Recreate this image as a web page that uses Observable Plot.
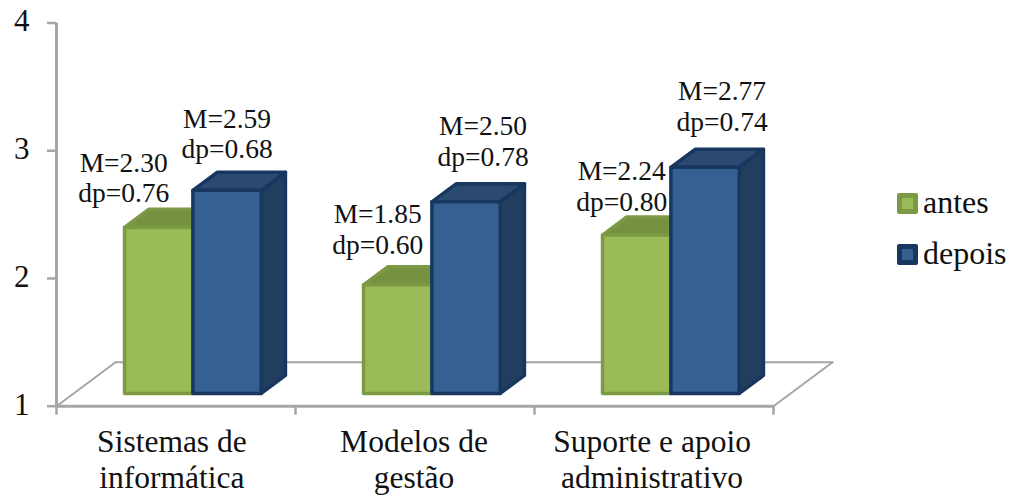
<!DOCTYPE html>
<html>
<head>
<meta charset="utf-8">
<script src="https://cdn.jsdelivr.net/npm/d3@7"></script>
<script src="https://cdn.jsdelivr.net/npm/@observablehq/plot@0.6"></script>
<style>
  html, body { margin: 0; padding: 0; background: #fff; }
  #chart { position: relative; width: 1013px; height: 495px; font-family: "Liberation Serif", serif; color: #111; overflow: hidden; }
  #chart svg { display: block; }
  .key { position: absolute; left: 897px; display: flex; align-items: center; font-size: 32px; line-height: 30px; }
  .key span { position: relative; top: -1px; }
  .key i { display: block; box-sizing: border-box; width: 21px; height: 21px; margin-right: 5px; border-radius: 2px; border-style: solid; border-width: 5px; }
</style>
</head>
<body>
<div id="chart"></div>
<script>
const categories = ["Sistemas de\ninformática", "Modelos de\ngestão", "Suporte e apoio\nadministrativo"];
const seriesNames = ["antes", "depois"];
const antesM = [2.30, 1.85, 2.24];
const antesDp = [0.76, 0.60, 0.80];
const depoisM = [2.59, 2.50, 2.77];
const depoisDp = [0.68, 0.78, 0.74];

// Oblique projection: a unit of depth moves a point this far in x and y data units.
const skewX = 0.247, skewY = 0.3446;
const project = (x, y, d) => ({x: x + skewX * d, y: y + skewY * d});

const barWidth = 0.286;
const barStart = 0.213;
const depthFront = 0.29, depthBack = 0.70;

const series = [
  {m: antesM, dp: antesDp, offset: 0, fill: "#9BBB59", stroke: "#7C9A45", top: "#76913F", side: "#76913F", sw: 3.5},
  {m: depoisM, dp: depoisDp, offset: barWidth, fill: "#366092", stroke: "#17375E", top: "#2A4A72", side: "#213E5F", sw: 3.5}
];

// Builds the three visible faces of one cuboid as closed outlines.
function faces(s) {
  const front = [], top = [], side = [];
  s.m.forEach((v, i) => {
    const x0 = i + barStart + s.offset, x1 = x0 + barWidth;
    const push = (arr, pts) => pts.forEach(p => arr.push({...p, bar: i}));
    push(front, [project(x0, 1, depthFront), project(x1, 1, depthFront), project(x1, v, depthFront), project(x0, v, depthFront)]);
    push(top, [project(x0, v, depthFront), project(x1, v, depthFront), project(x1, v, depthBack), project(x0, v, depthBack)]);
    push(side, [project(x1, 1, depthFront), project(x1, 1, depthBack), project(x1, v, depthBack), project(x1, v, depthFront)]);
  });
  return {front, top, side};
}

const faceMark = (rows, fill, s) => Plot.line(rows, {
  x: "x", y: "y", z: "bar", curve: "linear-closed",
  fill, stroke: s.stroke, strokeWidth: s.sw, strokeLinejoin: "round"
});

const barMarks = series.flatMap(s => {
  const f = faces(s);
  return [faceMark(f.top, s.top, s), faceMark(f.side, s.side, s), faceMark(f.front, s.fill, s)];
});

// Statistic labels sit beside each bar top; the nudges keep them clear of the neighbouring bar.
const labelNudge = [
  [{dx: -35, dy: -50}, {dx: 0, dy: -57}],
  [{dx: -20, dy: -56}, {dx: 17, dy: -61}],
  [{dx: -15, dy: -49.5}, {dx: 17, dy: -61.5}]
];
const labelMarks = series.flatMap((s, k) => s.m.map((v, i) => {
  const n = labelNudge[i][k];
  const at = project(i + barStart + s.offset + barWidth / 2, v, depthFront);
  return Plot.text([`M=${v.toFixed(2)}\ndp=${s.dp[i].toFixed(2)}`], {
    x: () => at.x, y: () => at.y, text: d => d,
    dx: n.dx, dy: n.dy, fontSize: 27.5, lineHeight: 1.11, fill: "#111", lineAnchor: "middle"
  });
}));

const floorBack = [project(0, 1, 1), project(3, 1, 1)];
const floorLeft = [project(0, 1, 0), project(0, 1, 1)];
const floorRight = [project(3, 1, 0), project(3, 1, 1)];
const gray = "#A6A6A6";

// Category labels are centred under each group, with a small shift for the first and last.
const categoryShift = [-0.017, -0.004, -0.008];

const chart = Plot.plot({
  width: 1013, height: 495,
  marginLeft: 56, marginRight: 240, marginTop: 22.5, marginBottom: 89.3,
  style: {fontFamily: "'Liberation Serif', serif", background: "#fff", overflow: "visible"},
  x: {domain: [0, 3], axis: null},
  y: {domain: [1, 4], axis: null},
  marks: [
    Plot.line(floorBack, {x: "x", y: "y", stroke: gray, strokeWidth: 2}),
    Plot.line(floorLeft, {x: "x", y: "y", stroke: gray, strokeWidth: 2}),
    Plot.line(floorRight, {x: "x", y: "y", stroke: gray, strokeWidth: 2}),
    ...barMarks,
    Plot.ruleX([0], {y1: () => 1, y2: () => 4, stroke: gray, strokeWidth: 3}),
    Plot.ruleY([1], {x1: () => 0, x2: () => 3, stroke: gray, strokeWidth: 3}),
    Plot.axisY({ticks: [1, 2, 3, 4], tickSize: 9, tickFormat: () => "", stroke: gray, strokeWidth: 2.5, label: null}),
    Plot.axisY({ticks: [1, 2, 3, 4], tickSize: 0, tickPadding: 27, tickFormat: d3.format("d"), fontSize: 31, fill: "#111", label: null, dy: -1.5}),
    Plot.axisX({ticks: [0, 1, 2, 3], tickSize: 9, tickPadding: 0, tickFormat: () => "", stroke: gray, strokeWidth: 2.5, label: null}),
    Plot.text(categories, {
      x: (d, i) => i + 0.5 + categoryShift[i], y: () => 1, text: d => d, dy: 52,
      fontSize: 31.5, lineHeight: 1.17, fill: "#111", lineAnchor: "middle"
    }),
    ...labelMarks
  ]
});

const root = document.getElementById("chart");
root.appendChild(chart);

// Key to the right of the plot, built from the series names.
seriesNames.forEach((name, k) => {
  const row = document.createElement("div");
  row.className = "key";
  row.style.top = (188 + k * 51) + "px";
  const swatch = document.createElement("i");
  swatch.style.background = series[k].fill;
  swatch.style.borderColor = series[k].stroke;
  const label = document.createElement("span");
  label.textContent = name;
  row.appendChild(swatch);
  row.appendChild(label);
  root.appendChild(row);
});
</script>
</body>
</html>
